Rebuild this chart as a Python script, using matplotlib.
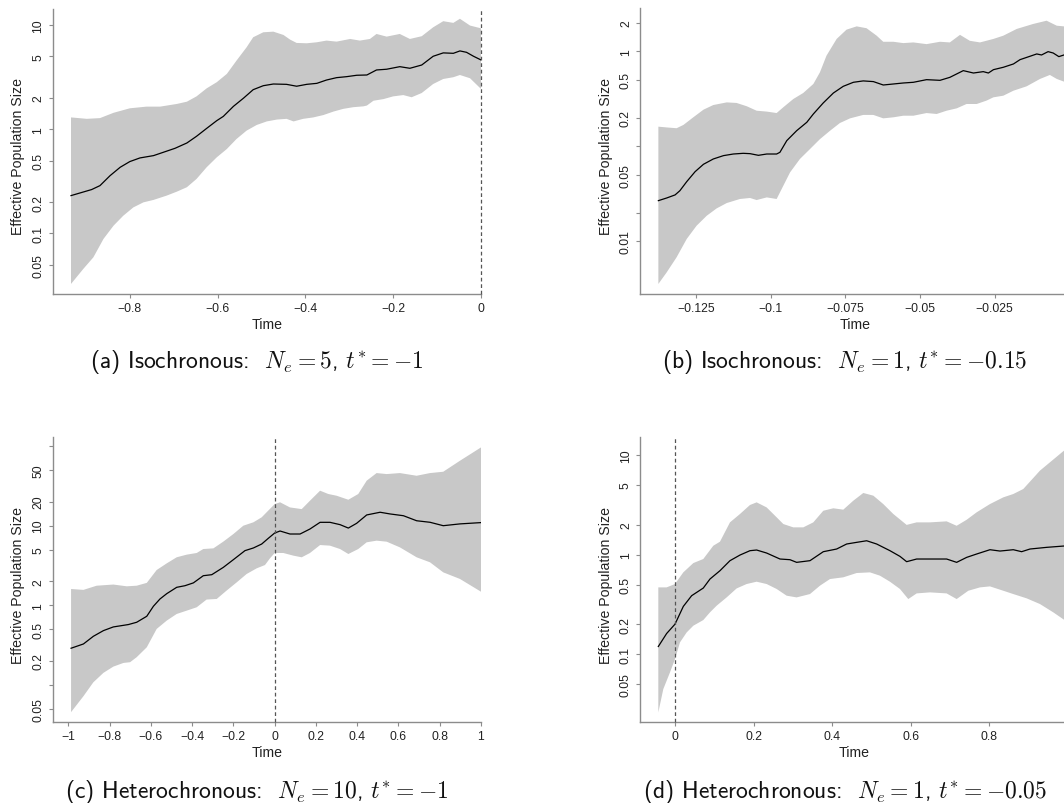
import numpy as np
import matplotlib
matplotlib.use("Agg")
import matplotlib.pyplot as plt
from matplotlib.ticker import NullLocator, FixedLocator, FixedFormatter

plt.rcParams['font.family'] = ['Liberation Sans', 'DejaVu Sans']
plt.rcParams['mathtext.fontset'] = 'cm'
plt.rcParams['axes.unicode_minus'] = True

# ---------------- data: panel (a) ----------------
a_med_t = [-0.934, -0.887, -0.868, -0.845, -0.822, -0.8, -0.777, -0.746, -0.724, -0.697, -0.670, -0.648,
           -0.625, -0.602, -0.587, -0.564, -0.541, -0.519, -0.496, -0.473, -0.443, -0.420, -0.397, -0.374,
           -0.352, -0.329, -0.306, -0.283, -0.260, -0.238, -0.215, -0.185, -0.162, -0.135, -0.109, -0.086,
           -0.063, -0.048, -0.033, -0.017, 0.0]
a_med_v = [0.231, 0.264, 0.288, 0.359, 0.432, 0.49, 0.531, 0.559, 0.601, 0.657, 0.739, 0.857,
           1.02, 1.21, 1.33, 1.66, 1.99, 2.40, 2.62, 2.72, 2.70, 2.59, 2.70, 2.76,
           2.97, 3.13, 3.20, 3.30, 3.32, 3.71, 3.77, 3.99, 3.85, 4.14, 5.02, 5.41,
           5.36, 5.65, 5.48, 5.02, 4.63]
a_up_t = [-0.934, -0.898, -0.868, -0.837, -0.8, -0.762, -0.731, -0.693, -0.670, -0.648, -0.625, -0.602,
          -0.579, -0.557, -0.534, -0.519, -0.496, -0.473, -0.450, -0.435, -0.420, -0.397, -0.374, -0.352,
          -0.329, -0.298, -0.276, -0.253, -0.238, -0.215, -0.185, -0.162, -0.135, -0.109, -0.086, -0.063,
          -0.048, -0.025, 0.0]
a_up_v = [1.30, 1.26, 1.28, 1.44, 1.59, 1.65, 1.65, 1.75, 1.84, 2.07, 2.47, 2.83,
          3.40, 4.56, 6.12, 7.64, 8.53, 8.65, 8.04, 7.26, 6.74, 6.69, 6.84, 7.10,
          6.94, 7.36, 7.10, 7.36, 8.22, 7.75, 8.22, 7.36, 7.82, 9.52, 10.9, 10.5,
          11.5, 9.9, 9.31]
a_lo_t = [-0.934, -0.906, -0.883, -0.860, -0.837, -0.815, -0.792, -0.769, -0.746, -0.716, -0.693, -0.670,
          -0.648, -0.625, -0.602, -0.579, -0.557, -0.534, -0.511, -0.488, -0.465, -0.443, -0.427, -0.405,
          -0.382, -0.359, -0.336, -0.314, -0.291, -0.268, -0.260, -0.245, -0.222, -0.200, -0.177, -0.158,
          -0.135, -0.109, -0.086, -0.063, -0.048, -0.025, 0.0]
a_lo_v = [0.0328, 0.0457, 0.0591, 0.0887, 0.119, 0.148, 0.178, 0.199, 0.210, 0.231, 0.252, 0.278,
          0.334, 0.432, 0.538, 0.647, 0.807, 0.971, 1.10, 1.19, 1.24, 1.26, 1.19, 1.26,
          1.30, 1.37, 1.48, 1.57, 1.63, 1.66, 1.69, 1.88, 1.95, 2.07, 2.13, 2.03,
          2.23, 2.72, 3.04, 3.16, 3.32, 3.09, 2.44]

# ---------------- data: panel (b) ----------------
b_med_t = [-0.1376, -0.1348, -0.1320, -0.1304, -0.1281, -0.1253, -0.1225, -0.1192, -0.1158, -0.1125,
           -0.1092, -0.1069, -0.1041, -0.1013, -0.0980, -0.0969, -0.0946, -0.0913, -0.0879, -0.0857,
           -0.0824, -0.0790, -0.0757, -0.0723, -0.0690, -0.0656, -0.0623, -0.0589, -0.0556, -0.0522,
           -0.0478, -0.0433, -0.0400, -0.0355, -0.0321, -0.0288, -0.0271, -0.0254, -0.0221, -0.0187,
           -0.0165, -0.0132, -0.0109, -0.0093, -0.0071, -0.0054, -0.0035, -0.0018, 0.0]
b_med_v = [0.0268, 0.0286, 0.0308, 0.0341, 0.0425, 0.0541, 0.0647, 0.0736, 0.0798, 0.0830,
           0.0844, 0.0837, 0.0804, 0.0830, 0.0830, 0.0865, 0.1148, 0.146, 0.179, 0.219,
           0.286, 0.364, 0.428, 0.472, 0.488, 0.480, 0.442, 0.453, 0.464, 0.472,
           0.503, 0.495, 0.532, 0.626, 0.591, 0.611, 0.591, 0.641, 0.679, 0.736,
           0.817, 0.886, 0.938, 0.915, 0.992, 0.960, 0.879, 0.915, 0.93]
b_up_t = [-0.1376, -0.1348, -0.1315, -0.1292, -0.1259, -0.1225, -0.1192, -0.1147, -0.1114, -0.1080,
          -0.1047, -0.1013, -0.0980, -0.0958, -0.0924, -0.0891, -0.0857, -0.0835, -0.0813, -0.0779,
          -0.0746, -0.0712, -0.0679, -0.0645, -0.0623, -0.0589, -0.0556, -0.0522, -0.0478, -0.0433,
          -0.0400, -0.0366, -0.0333, -0.0299, -0.0254, -0.0221, -0.0176, -0.0121, -0.0076, -0.0042,
          -0.0018, 0.0]
b_up_v = [0.161, 0.158, 0.155, 0.168, 0.202, 0.243, 0.272, 0.290, 0.286, 0.264,
          0.237, 0.232, 0.224, 0.257, 0.315, 0.364, 0.453, 0.601, 0.900, 1.35,
          1.69, 1.83, 1.75, 1.46, 1.26, 1.26, 1.22, 1.24, 1.19, 1.26,
          1.24, 1.49, 1.29, 1.24, 1.35, 1.46, 1.72, 1.94, 2.10, 1.86,
          1.83, 1.85]
b_lo_t = [-0.1376, -0.1348, -0.1315, -0.1281, -0.1248, -0.1214, -0.1181, -0.1147, -0.1103, -0.1069,
          -0.1047, -0.1013, -0.0980, -0.0963, -0.0935, -0.0902, -0.0868, -0.0835, -0.0801, -0.0768,
          -0.0734, -0.0690, -0.0656, -0.0623, -0.0589, -0.0556, -0.0522, -0.0478, -0.0444, -0.0411,
          -0.0377, -0.0344, -0.0310, -0.0277, -0.0254, -0.0221, -0.0187, -0.0143, -0.0098, -0.0065,
          -0.0042, -0.0018, 0.0]
b_lo_v = [0.00356, 0.00472, 0.00679, 0.0106, 0.0146, 0.0186, 0.0222, 0.0253, 0.0279, 0.0286,
          0.0272, 0.0290, 0.0279, 0.0356, 0.0532, 0.0736, 0.0938, 0.119, 0.146, 0.176,
          0.197, 0.214, 0.214, 0.197, 0.202, 0.210, 0.210, 0.224, 0.219, 0.237,
          0.251, 0.279, 0.279, 0.303, 0.328, 0.341, 0.385, 0.428, 0.512, 0.564,
          0.512, 0.480, 0.47]

# ---------------- data: panel (c) ----------------
c_med_t = [-0.987, -0.927, -0.879, -0.830, -0.782, -0.709, -0.669, -0.620, -0.588, -0.556, -0.523,
           -0.475, -0.435, -0.394, -0.346, -0.305, -0.249, -0.200, -0.144, -0.103, -0.063, -0.031,
           0.0, 0.026, 0.074, 0.123, 0.171, 0.220, 0.268, 0.317, 0.357, 0.397, 0.446, 0.511,
           0.559, 0.624, 0.688, 0.753, 0.817, 0.898, 1.0]
c_med_v = [0.289, 0.327, 0.408, 0.481, 0.535, 0.573, 0.612, 0.728, 0.971, 1.20, 1.40,
           1.68, 1.76, 1.91, 2.35, 2.42, 2.99, 3.74, 4.85, 5.24, 5.87, 6.92,
           8.07, 8.55, 7.84, 7.84, 9.06, 10.99, 10.99, 10.27, 9.31, 10.67, 13.6, 14.7,
           14.0, 13.3, 11.5, 11.0, 9.97, 10.5, 10.9]
c_up_t = [-0.987, -0.927, -0.863, -0.782, -0.717, -0.669, -0.620, -0.572, -0.523, -0.475, -0.426,
          -0.378, -0.346, -0.297, -0.249, -0.200, -0.152, -0.103, -0.063, -0.039, 0.0, 0.026,
          0.074, 0.131, 0.171, 0.220, 0.260, 0.300, 0.357, 0.405, 0.446, 0.494, 0.543, 0.607,
          0.688, 0.753, 0.817, 0.898, 1.0]
c_up_v = [1.60, 1.56, 1.76, 1.82, 1.73, 1.76, 1.91, 2.77, 3.36, 4.00, 4.32,
          4.53, 5.08, 5.18, 6.29, 7.84, 9.97, 11.0, 12.7, 14.7, 18.6, 19.6,
          16.9, 16.1, 20.5, 27.4, 24.9, 23.7, 21.1, 24.9, 36.6, 45.6, 44.3, 45.6,
          42.2, 45.6, 47.4, 65.1, 95.7]
c_lo_t = [-0.987, -0.927, -0.879, -0.830, -0.782, -0.733, -0.701, -0.669, -0.620, -0.572, -0.523,
          -0.475, -0.426, -0.378, -0.330, -0.281, -0.233, -0.184, -0.136, -0.087, -0.047, -0.023,
          0.0, 0.042, 0.090, 0.131, 0.171, 0.220, 0.268, 0.317, 0.357, 0.405, 0.446, 0.494,
          0.543, 0.607, 0.688, 0.753, 0.817, 0.898, 1.0]
c_lo_v = [0.0456, 0.0723, 0.108, 0.142, 0.170, 0.189, 0.193, 0.223, 0.297, 0.505, 0.643,
          0.778, 0.857, 0.944, 1.18, 1.20, 1.53, 1.94, 2.47, 2.91, 3.20, 3.88,
          4.53, 4.53, 4.20, 4.00, 4.53, 5.70, 5.60, 5.08, 4.40, 5.08, 6.17, 6.47,
          6.28, 5.33, 4.00, 3.46, 2.59, 2.14, 1.48]

# ---------------- data: panel (d) ----------------
d_med_t = [-0.0433, -0.0221, -0.0008, 0.0204, 0.0416, 0.0713, 0.0883, 0.1138, 0.1393, 0.1648, 0.1902,
           0.2072, 0.2327, 0.2667, 0.2921, 0.3091, 0.3431, 0.3771, 0.4110, 0.4365, 0.4620, 0.4875,
           0.5130, 0.5469, 0.5724, 0.5894, 0.6149, 0.6488, 0.6913, 0.7168, 0.7423, 0.7677, 0.8017,
           0.8272, 0.8611, 0.8824, 0.9036, 0.9461, 0.9902, 1.0]
d_med_v = [0.120, 0.162, 0.201, 0.303, 0.388, 0.463, 0.570, 0.691, 0.871, 0.992, 1.097,
           1.114, 1.039, 0.905, 0.891, 0.838, 0.871, 1.072, 1.140, 1.28, 1.33, 1.38,
           1.28, 1.097, 0.962, 0.851, 0.905, 0.905, 0.905, 0.838, 0.940, 1.016, 1.122,
           1.088, 1.122, 1.072, 1.140, 1.185, 1.222, 1.225]
d_up_t = [-0.0433, -0.0221, -0.0008, 0.0204, 0.0459, 0.0713, 0.0968, 0.1138, 0.1393, 0.1648, 0.1902,
          0.2072, 0.2327, 0.2582, 0.2752, 0.3006, 0.3261, 0.3516, 0.3771, 0.4025, 0.4280, 0.4535,
          0.4790, 0.5045, 0.5299, 0.5554, 0.5894, 0.6149, 0.6488, 0.6913, 0.7168, 0.7423, 0.7677,
          0.8017, 0.8357, 0.8611, 0.8866, 0.9291, 0.9902, 1.0]
d_up_v = [0.470, 0.470, 0.508, 0.665, 0.824, 0.905, 1.23, 1.35, 2.11, 2.56, 3.15,
          3.35, 2.98, 2.37, 2.03, 1.88, 1.88, 2.11, 2.76, 2.92, 2.83, 3.48,
          4.16, 3.91, 3.22, 2.56, 1.99, 2.11, 2.11, 2.16, 1.95, 2.24, 2.66,
          3.22, 3.76, 4.06, 4.56, 6.97, 11.05, 11.7]
d_lo_t = [-0.0433, -0.0306, -0.0136, -0.0008, 0.0119, 0.0289, 0.0459, 0.0713, 0.0883, 0.1053, 0.1308,
          0.1563, 0.1817, 0.2072, 0.2327, 0.2582, 0.2837, 0.3091, 0.3431, 0.3686, 0.3941, 0.4280,
          0.4620, 0.4960, 0.5214, 0.5469, 0.5724, 0.5936, 0.6149, 0.6488, 0.6913, 0.7168, 0.7465,
          0.7762, 0.8017, 0.8357, 0.8611, 0.8951, 0.9291, 0.9631, 0.9902, 1.0]
d_lo_v = [0.0262, 0.0449, 0.0660, 0.0898, 0.132, 0.166, 0.194, 0.221, 0.264, 0.308, 0.373,
          0.459, 0.508, 0.536, 0.508, 0.453, 0.388, 0.373, 0.403, 0.489, 0.570, 0.593,
          0.655, 0.665, 0.616, 0.536, 0.453, 0.359, 0.409, 0.419, 0.409, 0.359, 0.435,
          0.470, 0.481, 0.435, 0.403, 0.365, 0.320, 0.264, 0.223, 0.215]

# ---------------- tick definitions ----------------
a_xticks = [-0.8, -0.6, -0.4, -0.2, 0.0]
a_xlabels = ['\u22120.8', '\u22120.6', '\u22120.4', '\u22120.2', '0']
a_yticks = [0.05, 0.1, 0.2, 0.5, 1, 2, 5, 10]
a_ylabels = ['0.05', '0.1', '0.2', '0.5', '1', '2', '5', '10']

b_xticks = [-0.125, -0.1, -0.075, -0.05, -0.025, 0.0]
b_xlabels = ['\u22120.125', '\u22120.1', '\u22120.075', '\u22120.05', '\u22120.025', '0']
b_yticks = [0.01, 0.02, 0.05, 0.1, 0.2, 0.5, 1, 2]
b_ylabels = ['0.01', '', '0.05', '', '0.2', '0.5', '1', '2']

c_xticks = [-1, -0.8, -0.6, -0.4, -0.2, 0, 0.2, 0.4, 0.6, 0.8, 1]
c_xlabels = ['\u22121', '\u22120.8', '\u22120.6', '\u22120.4', '\u22120.2', '0', '0.2', '0.4', '0.6', '0.8', '1']
c_yticks = [0.05, 0.1, 0.2, 0.5, 1, 2, 5, 10, 20, 50, 100]
c_ylabels = ['0.05', '', '0.2', '0.5', '1', '2', '5', '10', '20', '50', '']

d_xticks = [0, 0.2, 0.4, 0.6, 0.8, 1.0]
d_xlabels = ['0', '0.2', '0.4', '0.6', '0.8', '1']
d_yticks = [0.05, 0.1, 0.2, 0.5, 1, 2, 5, 10]
d_ylabels = ['0.05', '0.1', '0.2', '0.5', '1', '2', '5', '10']

captions = [r'(a) Isochronous:  $N_e = 5$, $t^{*} = {-1}$',
            r'(b) Isochronous:  $N_e = 1$, $t^{*} = {-0.15}$',
            r'(c) Heterochronous:  $N_e = 10$, $t^{*} = {-1}$',
            r'(d) Heterochronous:  $N_e = 1$, $t^{*} = {-0.05}$']

# ---------------- layout ----------------
W, H = 1064, 804
fig = plt.figure(figsize=(W / 100, H / 100), dpi=100)
fig.patch.set_facecolor('white')

AX_COL = '#8c8c8c'
TXT_COL = '#222222'
BAND = '#c8c8c8'


def make_ax(left, right, top, bottom):
    return fig.add_axes([left / W, 1 - bottom / H, (right - left) / W, (bottom - top) / H])


def draw(ax, mt, mv, ut, uv, lt, lv, xlim, ylim, xticks, xlabels, yticks, ylabels, vline=None):
    ax.set_yscale('log')
    px = list(ut) + list(lt)[::-1]
    py = list(uv) + list(lv)[::-1]
    ax.fill(px, py, color=BAND, lw=0, zorder=1)
    ax.plot(mt, mv, color='black', lw=0.9, zorder=3)
    if vline is not None:
        ax.axvline(vline, color='#555555', lw=0.9, ls=(0, (3, 2.2)), zorder=4, clip_on=False)
    ax.set_xlim(*xlim)
    ax.set_ylim(*ylim)
    for s in ['top', 'right']:
        ax.spines[s].set_visible(False)
    for s in ['left', 'bottom']:
        ax.spines[s].set_color(AX_COL)
        ax.spines[s].set_linewidth(1.0)
    ax.xaxis.set_major_locator(FixedLocator(xticks))
    ax.xaxis.set_major_formatter(FixedFormatter(xlabels))
    ax.yaxis.set_major_locator(FixedLocator(yticks))
    ax.yaxis.set_major_formatter(FixedFormatter(ylabels))
    ax.yaxis.set_minor_locator(NullLocator())
    ax.xaxis.set_minor_locator(NullLocator())
    ax.tick_params(axis='both', length=3, width=0.8, color=AX_COL, labelsize=8.8, labelcolor=TXT_COL)
    ax.tick_params(axis='x', pad=2.5)
    ax.tick_params(axis='y', pad=3.0)
    for lab in ax.get_yticklabels():
        lab.set_rotation(90)
        lab.set_va('center')
        lab.set_ha('right')
    ax.set_xlabel('Time', fontsize=10.2, color=TXT_COL)
    ax.set_ylabel('Effective Population Size', fontsize=10.2, color=TXT_COL)
    ax.set_facecolor('none')


axA = make_ax(52.7, 481, 10, 295)
draw(axA, a_med_t, a_med_v, a_up_t, a_up_v, a_lo_t, a_lo_v, (-0.9757, 0.0), (0.02626, 14.27),
     a_xticks, a_xlabels, a_yticks, a_ylabels, vline=0.0)

axB = make_ax(640.3, 1069.3, 9.3, 295)
draw(axB, b_med_t, b_med_v, b_up_t, b_up_v, b_lo_t, b_lo_v, (-0.14365, 0.0), (0.00279, 2.836),
     b_xticks, b_xlabels, b_yticks, b_ylabels, vline=0.0)

axC = make_ax(52.7, 481, 438.3, 723.3)
draw(axC, c_med_t, c_med_v, c_up_t, c_up_v, c_lo_t, c_lo_v, (-1.076, 1.0), (0.034, 128.2),
     c_xticks, c_xlabels, c_yticks, c_ylabels, vline=0.0)

axD = make_ax(640.3, 1067.8, 438.3, 723.3)
draw(axD, d_med_t, d_med_v, d_up_t, d_up_v, d_lo_t, d_lo_v, (-0.0892, 1.0), (0.02084, 15.05),
     d_xticks, d_xlabels, d_yticks, d_ylabels, vline=0.0)

for ax in (axA, axB, axC, axD):
    h = ax.get_position().height * H
    ax.xaxis.set_label_coords(0.5, -30.0 / h)
    ax.xaxis.label.set_va('center')
    ax.yaxis.set_label_coords(-34.7 / (ax.get_position().width * W), 0.485)
    ax.yaxis.label.set_va('center')

cap_pos = [(256.5, 368), (844.5, 368), (257, 798), (845, 798)]
for (cx, cy), cap in zip(cap_pos, captions):
    fig.text(cx / W, 1 - cy / H, cap, ha='center', va='baseline', fontsize=17,
             color='#111111', family=['cmss10', 'DejaVu Sans'])

fig.savefig('out.png', dpi=100, facecolor='white')
